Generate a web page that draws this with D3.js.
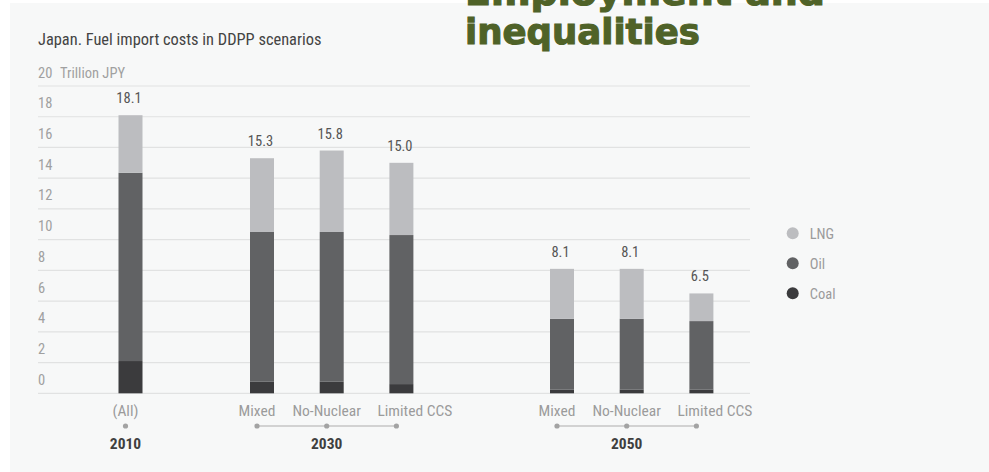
<!DOCTYPE html>
<html>
<head>
<meta charset="utf-8">
<script src="https://cdn.jsdelivr.net/npm/d3@7"></script>
<style>
  body { margin: 0; background: #ffffff; }
  svg text { font-family: "Liberation Sans Narrow", "Roboto Condensed", "Arial Narrow", sans-serif; }
  svg text.headline { font-family: "DejaVu Sans", Verdana, sans-serif; font-weight: bold; }
</style>
</head>
<body>
<svg id="chart" width="989" height="472"></svg>
<script>
// Fuel import costs (trillion JPY) by scenario, stacked Coal / Oil / LNG
const years = ["2010", "2030", "2050"];
const scenarioNames = [["(All)"], ["Mixed", "No-Nuclear", "Limited CCS"], ["Mixed", "No-Nuclear", "Limited CCS"]];
const fuels = ["Coal", "Oil", "LNG"];
const coal = [2.1, 0.75, 0.75, 0.6, 0.25, 0.25, 0.25];
const oil  = [12.25, 9.75, 9.75, 9.7, 4.6, 4.6, 4.45];
const lng  = [3.75, 4.8, 5.3, 4.7, 3.25, 3.25, 1.8];
const yTicks = [0, 2, 4, 6, 8, 10, 12, 14, 16, 18, 20];
const unitLabel = "Trillion JPY";
const title = "Japan. Fuel import costs in DDPP scenarios";

const fuelColors = { LNG: "#bcbdc0", Oil: "#616264", Coal: "#3b3b3d" };

// Flatten into one row per bar
const rows = [];
let k = 0;
years.forEach((yr, gi) => {
  scenarioNames[gi].forEach((sc, si) => {
    rows.push({ year: yr, scenario: sc, idx: si, last: si === scenarioNames[gi].length - 1 && scenarioNames[gi].length > 1,
                Coal: coal[k], Oil: oil[k], LNG: lng[k] });
    k++;
  });
});
rows.forEach(r => r.total = r.Coal + r.Oil + r.LNG);

const svg = d3.select("#chart");

// panel background
svg.append("rect").attr("x", 10).attr("y", 3).attr("width", 979).attr("height", 469).attr("fill", "#f7f8f8");

const y = d3.scaleLinear().domain([0, 20]).range([393.3, 86]);
const groupStart = d3.scaleOrdinal().domain(years).range([130.5, 262, 562]);
const inner = d3.scaleLinear().domain([0, 1]).range([0, 69.7]);
const barW = 24;
const cx = r => groupStart(r.year) + inner(r.idx);

const gridLeft = 38, gridRight = 750;

// gridlines
svg.append("g").selectAll("line").data(yTicks).join("line")
  .attr("x1", gridLeft).attr("x2", gridRight)
  .attr("y1", d => y(d)).attr("y2", d => y(d))
  .attr("stroke", "#e1e2e2").attr("stroke-width", 1.2);

// y tick labels sit just above their gridline
svg.append("g").selectAll("text").data(yTicks).join("text")
  .attr("x", gridLeft).attr("y", d => y(d) - 8.5)
  .attr("font-size", 14.5).attr("fill", "#a0a0a0")
  .text(d => d);
svg.append("text").attr("x", 60).attr("y", y(20) - 8.5)
  .attr("font-size", 14.5).attr("fill", "#a0a0a0").text(unitLabel);

// title
svg.append("text").attr("x", 38).attr("y", 45).attr("font-size", 16.4).attr("fill", "#444").text(title);

// stacked bars
const stack = d3.stack().keys(fuels)(rows);
svg.append("g").selectAll("g").data(stack).join("g")
  .attr("fill", d => fuelColors[d.key])
  .selectAll("rect").data(d => d).join("rect")
  .attr("x", d => cx(d.data) - barW / 2)
  .attr("width", barW)
  .attr("y", d => y(d[1]))
  .attr("height", d => y(d[0]) - y(d[1]));

// total labels
svg.append("g").selectAll("text").data(rows).join("text")
  .attr("x", d => cx(d) - 1.5).attr("y", d => y(d.total) - 12)
  .attr("text-anchor", "middle").attr("font-size", 14.5).attr("fill", "#555")
  .text(d => d3.format(".1f")(d.total));

// scenario labels, dots and group connectors
const dotX = r => cx(r) - 5;
svg.append("g").selectAll("text").data(rows).join("text")
  .attr("x", d => d.last ? cx(d) - 24 : dotX(d))
  .attr("y", 416)
  .attr("text-anchor", d => d.last ? "start" : "middle")
  .attr("font-size", 15.5).attr("fill", "#9b9b9b")
  .text(d => d.scenario);

years.forEach(yr => {
  const g = rows.filter(r => r.year === yr);
  if (g.length > 1) {
    svg.append("line")
      .attr("x1", dotX(g[0])).attr("x2", dotX(g[g.length - 1]))
      .attr("y1", 426).attr("y2", 426)
      .attr("stroke", "#c6c6c6").attr("stroke-width", 1.5);
  }
  const mid = g[Math.floor(g.length / 2)];
  svg.append("text").attr("x", dotX(mid)).attr("y", 449)
    .attr("text-anchor", "middle").attr("font-size", 15.5).attr("font-weight", "bold")
    .attr("fill", "#3f3f3f").text(yr);
});
svg.append("g").selectAll("circle").data(rows).join("circle")
  .attr("cx", dotX).attr("cy", 426).attr("r", 2.6).attr("fill", "#a3a3a3");

// legend
const legendKeys = ["LNG", "Oil", "Coal"];
const lg = svg.append("g").selectAll("g").data(legendKeys).join("g")
  .attr("transform", (d, i) => `translate(792.7,${233.3 + i * 30})`);
lg.append("circle").attr("r", 6).attr("fill", d => fuelColors[d]);
lg.append("text").attr("x", 17).attr("y", 5.5).attr("font-size", 14.5).attr("fill", "#9b9b9b").text(d => d);

// section headings of the surrounding page
const head = svg.append("g").attr("fill", "#4f6228").attr("stroke", "#4f6228").attr("stroke-width", 1.1);
head.append("text").attr("class", "headline").attr("x", 465).attr("y", 5)
  .attr("font-size", 35.5).attr("textLength", 360).attr("lengthAdjust", "spacingAndGlyphs").text("Employment and");
head.append("text").attr("class", "headline").attr("x", 465).attr("y", 44)
  .attr("font-size", 35.5).attr("textLength", 235).attr("lengthAdjust", "spacingAndGlyphs").text("inequalities");
head.append("text").attr("class", "headline").attr("x", 353).attr("y", 501)
  .attr("font-size", 35.5).attr("textLength", 128).attr("lengthAdjust", "spacingAndGlyphs").text("Tools");
</script>
</body>
</html>
